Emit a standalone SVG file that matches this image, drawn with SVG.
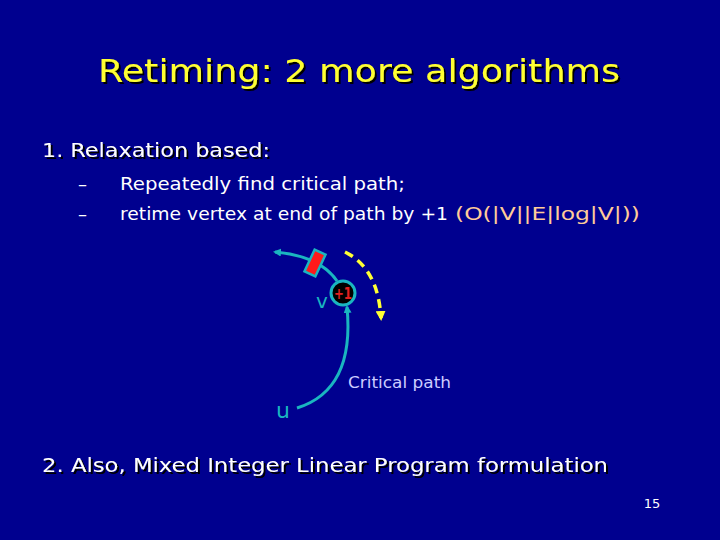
<svg xmlns="http://www.w3.org/2000/svg" width="720" height="540" viewBox="0 0 720 540">
<defs>
<style>
text{font-family:"DejaVu Sans","Liberation Sans",sans-serif}
.w{fill:#fff}
.s{filter:url(#ds)}
</style>
<filter id="ds" x="-5%" y="-20%" width="110%" height="150%"><feDropShadow dx="2" dy="2" stdDeviation="0.3" flood-color="#000"/></filter>
<marker id="ac" markerWidth="8" markerHeight="8" refX="6" refY="4" orient="auto" markerUnits="userSpaceOnUse"><path d="M0,0 L8,4 L0,8 z" fill="#1ab5c0"/></marker>
<marker id="ay" markerWidth="10" markerHeight="10" refX="7" refY="5" orient="auto" markerUnits="userSpaceOnUse"><path d="M0,0 L10,5 L0,10 z" fill="#ffff33"/></marker>
</defs>
<rect width="720" height="540" fill="#00008f"/>
<g id="title">
<text class="s" x="98" y="82" font-size="32" textLength="522" lengthAdjust="spacingAndGlyphs" fill="#ffff33">Retiming: 2 more algorithms</text>
</g>
<g id="body" font-size="20">
<text class="s w" x="42" y="157" textLength="228" lengthAdjust="spacingAndGlyphs">1. Relaxation  based:</text>
<text x="78" y="190" class="w" font-size="18">–</text>
<text x="78" y="220" class="w" font-size="18">–</text>
<text x="120" y="190" class="w" font-size="17" textLength="285" lengthAdjust="spacingAndGlyphs">Repeatedly find critical path;</text>
<text x="120" y="220" class="w" font-size="17" textLength="328" lengthAdjust="spacingAndGlyphs">retime vertex at end of path by +1</text>
<text x="455" y="220" fill="#ffcc99" font-size="17" textLength="185" lengthAdjust="spacingAndGlyphs">(O(|V||E|log|V|))</text>
<text class="s w" x="42" y="472" textLength="566" lengthAdjust="spacingAndGlyphs">2. Also, Mixed Integer Linear Program formulation</text>
<text x="652" y="508" class="w" font-size="13" text-anchor="middle">15</text>
</g>
<g id="connectors" fill="none">
<path d="M297,408 Q355,390 347,307" stroke="#1ab5c0" stroke-width="3" marker-end="url(#ac)"/>
<path d="M337,281 Q320,256 275,252" stroke="#1ab5c0" stroke-width="3" marker-end="url(#ac)"/>
<path d="M345,252 Q378,268 381,318" stroke="#ffff33" stroke-width="3.5" stroke-dasharray="9,6" marker-end="url(#ay)"/>
</g>
<g id="reg">
<rect x="-6" y="-12" width="12" height="24" fill="#ff1a1a" stroke="#1ab5c0" stroke-width="2.5" transform="translate(315,263) rotate(25)"/>
</g>
<g id="v">
<circle cx="343" cy="293" r="12" fill="#000" stroke="#1ab5c0" stroke-width="3"/>
<text x="343" y="299" font-size="15" font-weight="bold" fill="#e02020" text-anchor="middle" textLength="18" lengthAdjust="spacingAndGlyphs">+1</text>
<text x="322" y="308" font-size="20" fill="#1ab5c0" text-anchor="middle">v</text>
</g>
<g id="u">
<text x="283" y="418" font-size="22" fill="#1ab5c0" text-anchor="middle">u</text>
</g>
<text x="348" y="388" font-size="16" fill="#ccccff" textLength="103" lengthAdjust="spacingAndGlyphs">Critical path</text>
</svg>
